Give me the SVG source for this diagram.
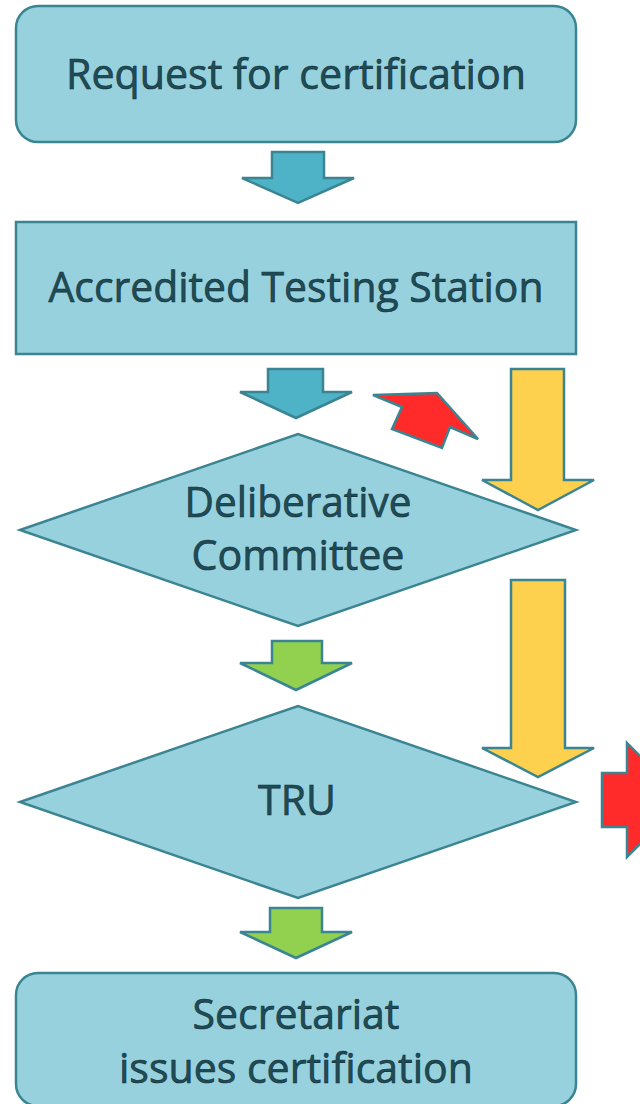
<svg xmlns="http://www.w3.org/2000/svg" width="640" height="1104" viewBox="0 0 640 1104">
<style>
.node{fill:#96d1dd;stroke:#3b8593;stroke-width:2.5}
.arr{stroke:#3b8593;stroke-width:2.5;stroke-linejoin:miter}
.blue{fill:#4fb3c8}
.green{fill:#92d050}
.yellow{fill:#fdd04d}
.red{fill:#ff2a2a}
.t{font-family:"Open Sans","Noto Sans",sans-serif;font-size:42px;fill:#1f4c57;stroke:#0e2d35;stroke-width:0.6;text-anchor:middle}
</style>
<rect width="640" height="1104" fill="#ffffff"/>
<g id="n1">
<rect class="node" x="16" y="6" width="560" height="136" rx="22"/>
<text class="t" x="296" y="89" textLength="460" lengthAdjust="spacingAndGlyphs">Request for certification</text>
</g>
<g id="n2">
<rect class="node" x="16" y="222" width="560" height="132"/>
<text class="t" x="296" y="302" textLength="495" lengthAdjust="spacingAndGlyphs">Accredited Testing Station</text>
</g>
<g id="n3">
<polygon class="node" points="20,530 298,434 576,530 298,626"/>
<text class="t" x="298" y="517" textLength="227" lengthAdjust="spacingAndGlyphs">Deliberative</text>
<text class="t" x="298" y="570" textLength="213" lengthAdjust="spacingAndGlyphs">Committee</text>
</g>
<g id="n4">
<polygon class="node" points="20,802 298,706 576,802 298,898"/>
<text class="t" x="297" y="815" textLength="78" lengthAdjust="spacingAndGlyphs">TRU</text>
</g>
<g id="n5">
<rect class="node" x="16" y="973" width="560" height="133" rx="22"/>
<text class="t" x="296" y="1029" textLength="207" lengthAdjust="spacingAndGlyphs">Secretariat</text>
<text class="t" x="296" y="1083" textLength="354" lengthAdjust="spacingAndGlyphs">issues certification</text>
</g>
<g id="connectors">
<polygon class="arr blue" points="272,152 324,152 324,178 354,178 298,203 242,178 272,178"/>
<polygon class="arr blue" points="268,369 323,369 323,392 352,392 296,418 240,392 268,392"/>
<polygon class="arr green" points="272,641 322,641 322,663 352,663 296,690 240,663 272,663"/>
<polygon class="arr green" points="270,908 322,908 322,932 352,932 296,958 240,932 270,932"/>
<polygon class="arr yellow" points="511,369 564,369 564,480 594,480 538,510 482,480 511,480"/>
<polygon class="arr yellow" points="511,580 565,580 565,748 594,748 538,777 482,748 511,748"/>
<polygon class="arr red" points="373,395 437,393 478,439 450,427 442,448 392,429 402,407"/>
<polygon class="arr red" points="602,773 627,773 627,743 684,800 627,857 627,827 602,827"/>
</g>
</svg>
